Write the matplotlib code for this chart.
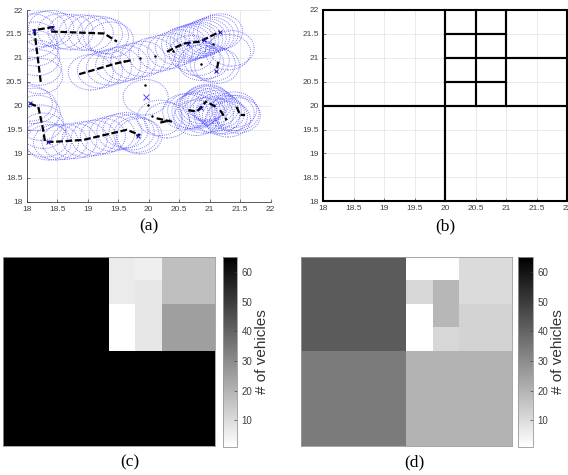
import numpy as np
import matplotlib
matplotlib.use("Agg")
import matplotlib.pyplot as plt
from matplotlib.patches import Circle, Rectangle
from matplotlib.colors import Normalize

plt.rcParams['font.family'] = ['Liberation Sans', 'DejaVu Sans']

# ---------------- panel (a): vehicle positions and coverage circles ----------------
radius = 0.37

ul_x = [18.10, 18.13, 18.15, 18.17, 18.20, 18.22, 18.28, 18.40, 18.55, 18.72, 18.90, 19.05, 19.20, 19.30, 19.38]
ul_y = [21.55, 21.38, 21.20, 21.00, 20.80, 20.62, 21.60, 21.62, 21.56, 21.54, 21.53, 21.52, 21.50, 21.46, 21.38]

dg_x = [19.05, 19.20, 19.35, 19.50, 19.62, 19.75, 19.90, 20.05, 20.20, 20.35, 20.48, 20.58, 20.66,
        20.72, 20.78, 20.84, 20.90, 20.96, 21.03, 21.10, 21.17, 20.70, 20.80, 20.86, 20.95, 21.05,
        21.12, 21.30, 21.36]
dg_y = [20.70, 20.74, 20.80, 20.85, 20.89, 20.93, 20.98, 21.05, 21.10, 21.15, 21.22, 21.28, 21.31,
        21.34, 21.36, 21.38, 21.42, 21.45, 21.48, 21.52, 21.55, 21.10, 21.00, 20.90, 20.94, 20.88,
        20.84, 21.12, 21.20]

ll_x = [18.05, 18.12, 18.18, 18.23, 18.27, 18.30, 18.36, 18.48, 18.62, 18.78, 18.95, 19.10, 19.25,
        19.40, 19.52, 19.62, 19.72, 19.80, 19.85]
ll_y = [20.05, 20.00, 19.85, 19.65, 19.48, 19.30, 19.24, 19.24, 19.25, 19.27, 19.30, 19.33, 19.37,
        19.42, 19.46, 19.49, 19.45, 19.40, 19.37]

md_x = [19.95, 20.18, 20.30]
md_y = [20.18, 19.75, 19.70]

lr_x = [20.60, 20.68, 20.75, 20.80, 20.85, 20.88, 20.92, 20.96, 21.00, 21.05, 21.10, 21.15, 21.20,
        21.25, 21.30, 21.36, 21.40, 21.44, 21.46, 20.78, 20.90, 21.02, 21.12]
lr_y = [19.88, 19.90, 19.88, 19.92, 19.95, 20.00, 20.05, 20.08, 20.05, 20.00, 19.95, 19.90, 19.85,
        19.78, 19.72, 19.85, 19.92, 19.85, 19.80, 19.75, 19.80, 19.82, 19.78]

# vehicle tracks
trk_x = [[18.23, 18.125, 18.46], [18.40, 19.27, 19.48], [18.86, 19.48, 19.75],
         [20.30, 20.57, 20.84, 21.17], [21.14, 21.11],
         [18.05, 18.19, 18.27, 18.30, 18.46, 18.93, 19.64, 19.86],
         [20.13, 20.38], [20.19, 20.35],
         [20.65, 20.79, 20.95], [21.00, 21.10], [21.17, 21.28], [21.44, 21.50, 21.58]]
trk_y = [[20.50, 21.58, 21.65], [21.55, 21.51, 21.34], [20.66, 20.89, 20.96],
         [21.13, 21.30, 21.34, 21.55], [20.92, 20.70],
         [20.05, 19.98, 19.50, 19.25, 19.25, 19.29, 19.50, 19.39],
         [19.74, 19.67], [19.65, 19.70],
         [19.91, 19.88, 20.10], [20.05, 19.98], [19.91, 19.70], [19.98, 19.81, 19.81]]

dot_x = [19.94, 19.99, 20.05, 19.60, 19.85, 20.10, 20.85, 21.05, 20.40, 19.80]
dot_y = [20.43, 20.02, 19.79, 20.93, 21.00, 21.05, 20.88, 21.30, 21.15, 19.40]

mark_x = [19.95, 18.05, 18.35, 19.83, 20.85, 20.90, 21.17, 18.42, 18.12, 20.65, 21.10]
mark_y = [20.18, 20.05, 19.25, 19.38, 19.95, 21.38, 21.55, 21.62, 21.57, 21.30, 20.72]

# ---------------- panel (b): quadtree partition ----------------
cell_x0 = [18.0, 18.0, 20.0, 21.0, 21.0, 20.0, 20.5, 20.0, 20.5, 20.0, 20.5, 20.0, 20.5]
cell_y0 = [20.0, 18.0, 18.0, 21.0, 20.0, 21.5, 21.5, 21.0, 21.0, 20.5, 20.5, 20.0, 20.0]
cell_w = [2.0, 2.0, 2.0, 1.0, 1.0, 0.5, 0.5, 0.5, 0.5, 0.5, 0.5, 0.5, 0.5]
cell_h = [2.0, 2.0, 2.0, 1.0, 1.0, 0.5, 0.5, 0.5, 0.5, 0.5, 0.5, 0.5, 0.5]

# vehicle counts per cell
count_c = [65, 65, 65, 17, 25, 6, 5, 6, 7, 1, 7, 1, 7]
count_d = [42, 34, 20, 10, 12, 1, 1, 11, 19, 1, 19, 1, 11]

cb_ticks = [10, 20, 30, 40, 50, 60]
vmin, vmax = 1, 65

W, H = 568, 475
fig = plt.figure(figsize=(W / 100, H / 100), dpi=100)


def frac(x0, y_top, x1, y_bot):
    return [x0 / W, 1 - y_bot / H, (x1 - x0) / W, (y_bot - y_top) / H]


ticks = [18, 18.5, 19, 19.5, 20, 20.5, 21, 21.5, 22]
ticklabels = ['18', '18.5', '19', '19.5', '20', '20.5', '21', '21.5', '22']


def style_xy(ax):
    ax.set_xlim(18, 22)
    ax.set_ylim(18, 22)
    ax.set_xticks(ticks)
    ax.set_yticks(ticks)
    ax.set_xticklabels(ticklabels)
    ax.set_yticklabels(ticklabels)
    ax.grid(True, color='0.9', lw=0.6)
    ax.set_axisbelow(True)
    ax.tick_params(direction='in', length=2.5, width=0.5, labelsize=6.0,
                   colors='0.25', pad=3)


# panel (a)
axa = fig.add_axes(frac(26.7, 10, 270.7, 201.7))
style_xy(axa)
for s in ['top', 'right']:
    axa.spines[s].set_visible(False)
for s in ['left', 'bottom']:
    axa.spines[s].set_color('0.25')
    axa.spines[s].set_linewidth(0.6)

for gx, gy in [(ul_x, ul_y), (dg_x, dg_y), (ll_x, ll_y), (md_x, md_y), (lr_x, lr_y)]:
    for cx, cy in zip(gx, gy):
        axa.add_patch(Circle((cx, cy), radius, fill=False, edgecolor=(0.3, 0.3, 1.0),
                             lw=0.7, linestyle=(0, (1, 1.2)), alpha=0.75))
for tx, ty in zip(trk_x, trk_y):
    axa.plot(tx, ty, color='black', lw=1.6, linestyle=(0, (3, 1.2)))
axa.plot(dot_x, dot_y, 'k.', ms=1.6)
axa.plot(mark_x[:1], mark_y[:1], 'x', color=(0.3, 0.3, 1.0), ms=5, mew=0.7)
axa.plot(mark_x[1:], mark_y[1:], 'x', color=(0.1, 0.1, 0.8), ms=3, mew=0.7)

# panel (b)
axb = fig.add_axes(frac(323.3, 10, 567.3, 201.3))
style_xy(axb)
for s in axb.spines.values():
    s.set_visible(False)
for x0, y0, w, h in zip(cell_x0, cell_y0, cell_w, cell_h):
    axb.add_patch(Rectangle((x0, y0), w, h, fill=False, edgecolor='black',
                            lw=1.5, clip_on=False))

# panels (c) and (d): vehicle counts per cell
norm = Normalize(vmin=vmin, vmax=vmax)


def count_grid(values):
    grid = np.zeros((8, 8))
    for x0, y0, w, h, v in zip(cell_x0, cell_y0, cell_w, cell_h, values):
        c0 = int(round((x0 - 18) * 2))
        r0 = int(round((y0 - 18) * 2))
        grid[r0:r0 + int(round(h * 2)), c0:c0 + int(round(w * 2))] = v
    return grid


def heat_panel(values, box, cbox):
    ax = fig.add_axes(frac(*box))
    im = ax.imshow(count_grid(values), cmap='gray_r', norm=norm, origin='lower',
                   extent=[18, 22, 18, 22], aspect='auto', interpolation='nearest')
    ax.set_xticks([])
    ax.set_yticks([])
    for s in ax.spines.values():
        s.set_color('0.6')
        s.set_linewidth(0.6)
    cax = fig.add_axes(frac(*cbox))
    cb = fig.colorbar(im, cax=cax, ticks=cb_ticks)
    cb.outline.set_edgecolor('0.6')
    cb.outline.set_linewidth(0.6)
    cax.tick_params(direction='in', length=2.5, width=0.5, labelsize=7,
                    colors='0.25', pad=3)
    cb.set_label('# of vehicles', fontsize=11, color='0.2', labelpad=2)
    return ax


heat_panel(count_c, (3.3, 256.7, 215.0, 446.0), (222.7, 257.0, 237.3, 447.0))
heat_panel(count_d, (300.7, 256.7, 511.7, 446.0), (518.3, 257.0, 533.3, 447.0))

serif = ['Liberation Serif', 'DejaVu Serif']
for lab, x, y in [('(a)', 148.7, 226), ('(b)', 445.3, 226), ('(c)', 130, 462), ('(d)', 414, 462)]:
    fig.text(x / W, 1 - y / H, lab, family=serif, fontsize=12.5, ha='center', va='center')

fig.savefig('out.png', dpi=100)
